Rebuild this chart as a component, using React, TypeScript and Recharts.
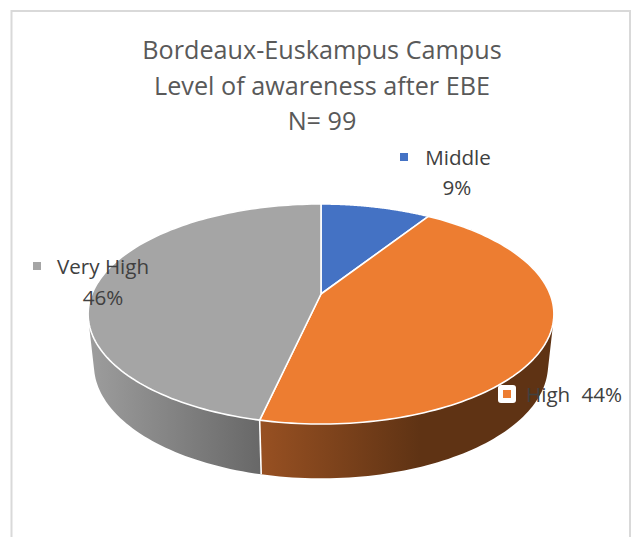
import React from "react";
import { PieChart, Pie, Cell } from "recharts";

const categories = ["Middle", "High", "Very High"];
const counts = [9, 44, 46];
const titleLines = ["Bordeaux-Euskampus Campus", "Level of awareness after EBE", "N= 99"];

const colors = ["#4472c4", "#ed7d31", "#a5a5a5"];
const wallStops = [
  ["#2a4a80", "#2a4a80"],
  ["#975022", "#5f3314"],
  ["#9c9c9c", "#686868"],
];
const wallRange = [[321, 430], [262, 420], [92, 260]];
const data = categories.map((name, i) => ({ name, value: counts[i] }));

const FONT = "'Open Sans', 'Noto Sans', sans-serif";
const TEXT = "#595959";

// perspective of the tilted disc
const P = 0.1818;
const Y_SCALE = 0.4646;
const ELLIPSE_SHIFT = 20; // ellipse centre below the apex
const WALL_DROP = 51;
const WALL_X = 0.975;
const WALL_Y = 1.03;

type Pt = [number, number];
const project = (cx: number, cy: number, r: number, deg: number): Pt => {
  const t = (deg * Math.PI) / 180;
  const u = Math.cos(t);
  const v = Math.sin(t);
  const w = 1 + P * v;
  return [cx + (r * u) / w, cy - (r * Y_SCALE * v) / w];
};
const lower = (cx: number, cy: number, p: Pt): Pt => {
  const c = cy + ELLIPSE_SHIFT;
  return [cx + (p[0] - cx) * WALL_X, c + WALL_DROP + (p[1] - c) * WALL_Y];
};
const arc = (cx: number, cy: number, r: number, a: number, b: number, n = 120): Pt[] => {
  const out: Pt[] = [];
  for (let i = 0; i <= n; i++) out.push(project(cx, cy, r, a + ((b - a) * i) / n));
  return out;
};
const toPath = (pts: Pt[]) =>
  "M" + pts.map((p) => p[0].toFixed(2) + " " + p[1].toFixed(2)).join("L") + "Z";
// every quad wound the same way, so that a nonzero fill makes one seamless union
const oriented = (pts: Pt[]) => {
  let area = 0;
  pts.forEach((p, i) => {
    const q = pts[(i + 1) % pts.length];
    area += p[0] * q[1] - q[0] * p[1];
  });
  return area < 0 ? [...pts].reverse() : pts;
};

const TopFace = (props: any) => {
  const { cx, cy, outerRadius, startAngle, endAngle, fill } = props;
  const pts = [[cx, cy] as Pt, ...arc(cx, cy, outerRadius, startAngle, endAngle)];
  return <path d={toPath(pts)} fill={fill} stroke="#ffffff" strokeWidth={1.6} strokeLinejoin="round" />;
};

const Wall = (props: any) => {
  const { cx, cy, outerRadius, startAngle, endAngle, index } = props;
  const idx = index ?? categories.indexOf(props.name);
  const id = "wall" + idx;
  const top = arc(cx, cy, outerRadius, startAngle, endAngle);
  const [x1, x2] = wallRange[idx];
  const seam = [top[0], lower(cx, cy, top[0])];
  const band = top
    .slice(1)
    .map((p, i) => toPath(oriented([top[i], p, lower(cx, cy, p), lower(cx, cy, top[i])])))
    .join("");
  return (
    <g>
      <defs>
        <linearGradient id={id} gradientUnits="userSpaceOnUse" x1={x1} x2={x2} y1={0} y2={0}>
          <stop offset="0" stopColor={wallStops[idx][0]} />
          <stop offset="1" stopColor={wallStops[idx][1]} />
        </linearGradient>
      </defs>
      <path d={band} fill={`url(#${id})`} fillRule="nonzero" />
      <path d={`M${seam[0][0]} ${seam[0][1]}L${seam[1][0]} ${seam[1][1]}`} stroke="#ffffff" strokeWidth={1.6} />
    </g>
  );
};

const Marker = ({ x, y, color, boxed }: { x: number; y: number; color: string; boxed?: boolean }) => (
  <g>
    {boxed && <rect x={x - 9} y={y - 9} width={18} height={18} rx={3} fill="#ffffff" />}
    <rect x={x - 4} y={y - 4} width={8} height={8} fill={color} />
  </g>
);

const labelText = { fontFamily: FONT, fontSize: 20.6, fill: "#404040" };

const renderLabel = (props: any) => {
  const i = props.index;
  const pct = Math.round(props.percent * 100) + "%";
  if (i === 0)
    return (
      <g key={i}>
        <Marker x={404} y={157} color={colors[0]} />
        <text {...labelText} x={458} y={165} textAnchor="middle">{categories[0]}</text>
        <text {...labelText} x={457} y={195} textAnchor="middle">{pct}</text>
      </g>
    );
  if (i === 1)
    return (
      <g key={i}>
        <Marker x={507} y={394} color={colors[1]} boxed />
        <text {...labelText} x={526} y={402}>{categories[1]}</text>
        <text {...labelText} x={622} y={402} textAnchor="end">{pct}</text>
      </g>
    );
  return (
    <g key={i}>
      <Marker x={37} y={266} color={colors[2]} />
      <text {...labelText} x={57} y={274}>{categories[2]}</text>
      <text {...labelText} x={103} y={305} textAnchor="middle">{pct}</text>
    </g>
  );
};

export default function App() {
  return (
    <div style={{ position: "absolute", left: 0, top: 0, width: 635, height: 537, background: "#fff" }}>
      <PieChart width={635} height={537} margin={{ top: 0, right: 0, bottom: 0, left: 0 }}>
        <path d="M11.5 537V11H630V537" fill="none" stroke="#d9d9d9" strokeWidth={2} />
        {titleLines.map((t, i) => (
          <text key={t} x={322} y={59 + i * 35.5} textAnchor="middle" fontFamily={FONT} fontSize={25.2} fill={TEXT}>
            {t}
          </text>
        ))}
        <Pie
          data={data}
          dataKey="value"
          nameKey="name"
          cx={321}
          cy={294}
          outerRadius={229}
          startAngle={90}
          endAngle={-270}
          isAnimationActive={false}
          shape={Wall}
          legendType="none"
        />
        <Pie
          data={data}
          dataKey="value"
          nameKey="name"
          cx={321}
          cy={294}
          outerRadius={229}
          startAngle={90}
          endAngle={-270}
          isAnimationActive={false}
          shape={TopFace}
          label={renderLabel}
          labelLine={false}
        >
          {data.map((d, i) => (
            <Cell key={d.name} fill={colors[i]} />
          ))}
        </Pie>
      </PieChart>
    </div>
  );
}
